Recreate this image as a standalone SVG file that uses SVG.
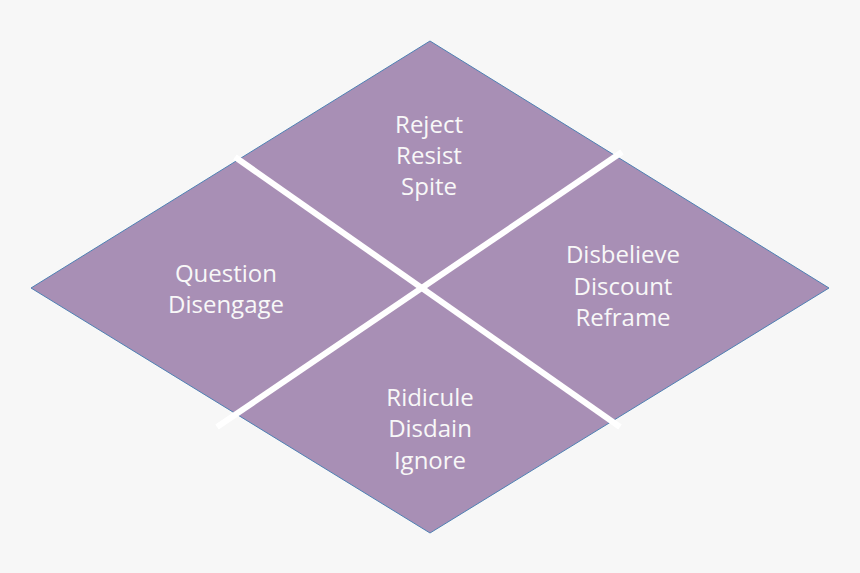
<svg xmlns="http://www.w3.org/2000/svg" width="860" height="573" viewBox="0 0 860 573">
<style>
.bg{fill:#f7f7f7}
.shape{fill:#a88fb5;stroke:#4f81b3;stroke-width:1}
.div{stroke:#ffffff;stroke-width:6;stroke-linecap:butt;fill:none}
.lbl{font-family:"Open Sans","Noto Sans","DejaVu Sans",sans-serif;font-size:24px;fill:#f8f8f8;text-anchor:middle}
</style>
<rect class="bg" x="0" y="0" width="860" height="573"/>
<g id="rhombus">
<polygon class="shape" points="430,41 829,288 430,533 31,288"/>
</g>
<g id="connectors">
<line class="div" x1="235" y1="157" x2="620" y2="427"/>
<line class="div" x1="622" y1="152" x2="217" y2="427"/>
</g>
<g id="top">
<text class="lbl" x="429" y="133">Reject</text>
<text class="lbl" x="429" y="164">Resist</text>
<text class="lbl" x="429" y="195">Spite</text>
</g>
<g id="left">
<text class="lbl" x="226" y="282">Question</text>
<text class="lbl" x="226" y="313">Disengage</text>
</g>
<g id="right">
<text class="lbl" x="623" y="263">Disbelieve</text>
<text class="lbl" x="623" y="295">Discount</text>
<text class="lbl" x="623" y="326">Reframe</text>
</g>
<g id="bottom">
<text class="lbl" x="430" y="406">Ridicule</text>
<text class="lbl" x="430" y="437">Disdain</text>
<text class="lbl" x="430" y="469">Ignore</text>
</g>
</svg>
